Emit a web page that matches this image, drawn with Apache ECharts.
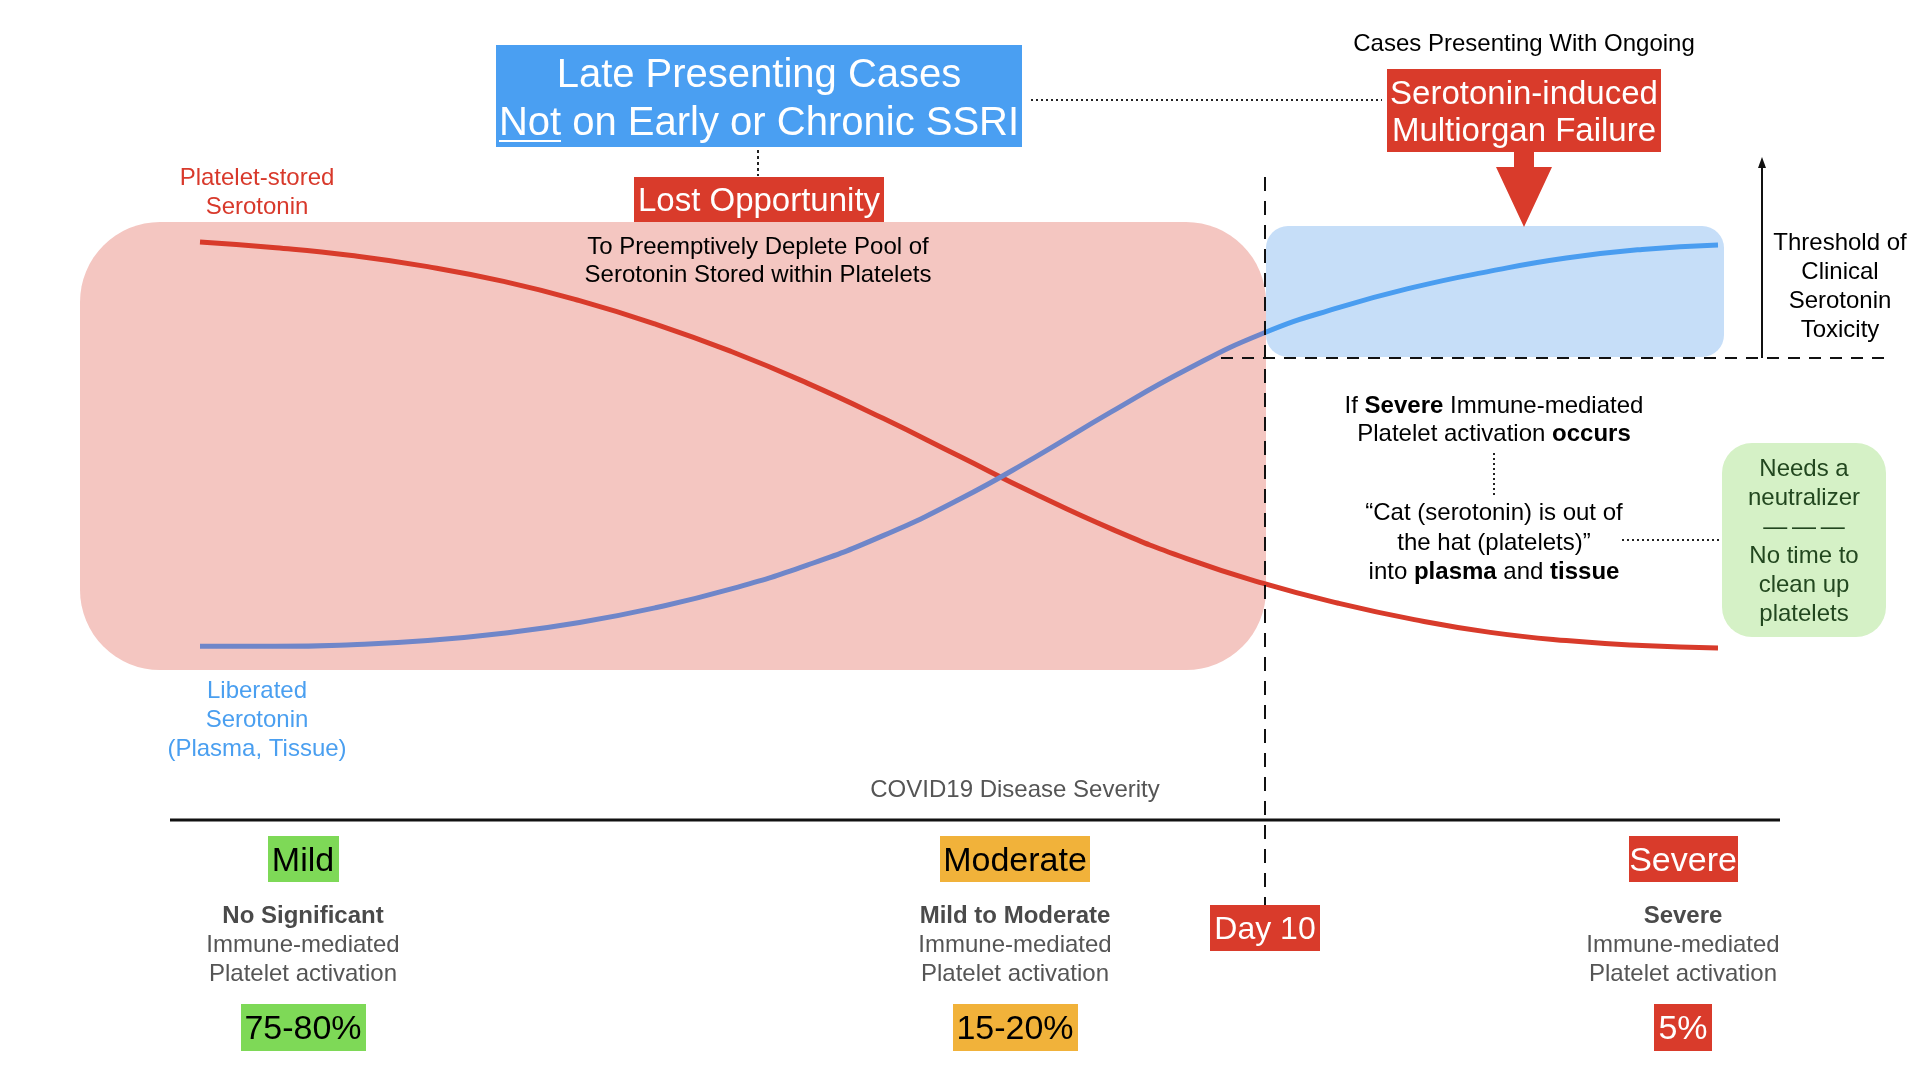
<!DOCTYPE html>
<html>
<head>
<meta charset="utf-8">
<script src="https://cdn.jsdelivr.net/npm/echarts@6/dist/echarts.min.js"></script>
<style>
html,body{margin:0;padding:0;background:#fff;}
#chart{width:1920px;height:1080px;}
</style>
</head>
<body>
<div id="chart"></div>
<script>
// Disease progression (0 = onset, 100 = end of severe phase); Day 10 ≈ 70.2
const progress = [0,5,10,15,20,25,30,35,40,45,50,55,60,65,70,75,80,85,90,95,100];
// Relative serotonin level (0-100)
const plateletStored = [99.5,98.1,96.2,93.5,89.9,85.2,79.5,72.8,65.1,56.5,47.3,38.1,29.6,22.3,16.3,11.4,7.4,4.3,2.3,1.1,0.5];
const liberated      = [0.9,0.9,1.3,2.3,4.1,6.7,10.3,14.9,20.7,27.9,36.7,47.0,58.0,68.4,77.2,83.5,88.5,92.4,95.6,97.7,98.8];

const severityLabels = ['Mild','Moderate','Severe'];
const severityDesc = ['No Significant','Mild to Moderate','Severe'];
const severityShare = ['75-80%','15-20%','5%'];

const FF = "'Liberation Sans', Arial, Helvetica, sans-serif";
const RED = '#d93b2b', BLUE = '#4a9df0';

function rect(x,y,w,h,fill,r,z){return {type:'rect',shape:{x:x,y:y,width:w,height:h,r:r||0},style:{fill:fill},z:z||1};}
function txt(x,y,s,size,fill,weight,extra){
  const st = Object.assign({text:s,fill:fill||'#000',fontSize:size,fontFamily:FF,fontWeight:weight||'normal',textAlign:'center',textVerticalAlign:'middle'}, extra||{});
  return {type:'text',x:x,y:y + (size>=30 ? 3 : 1),style:st,z:20};
}
function line(x1,y1,x2,y2,stroke,w,dash,z){return {type:'line',shape:{x1:x1,y1:y1,x2:x2,y2:y2},style:{stroke:stroke,lineWidth:w,lineDash:dash||null},z:z||15};}
const boldRich = {b:{fontWeight:'bold',fontSize:24,fontFamily:FF,fill:'#000'}};

const g = [];
// Background panels
g.push(rect(80,222,1186,448,'#f4c6c1',80,0));
g.push(rect(1266,226,458,131,'#c6def8',22,0));
g.push(rect(1722,443,164,194,'#d5f1c6',30,0));

// Top-left blue header
g.push(rect(496,45,526,102,'#4a9ff2',0,1));
g.push(txt(759,73,'Late Presenting Cases',40,'#fff'));
g.push(txt(759,121,'Not on Early or Chronic SSRI',40,'#fff'));
g.push(line(499,141,561,141,'#fff',2,null,21));
g.push(line(1031,100,1382,100,'#222',2,[2,3]));
g.push(line(758,150,758,176,'#222',2,[3,3]));
// Lost opportunity
g.push(rect(634,177,250,45,RED,0,1));
g.push(txt(759,199,'Lost Opportunity',33,'#fff'));
g.push(txt(758,246,'To Preemptively Deplete Pool of',24,'#000'));
g.push(txt(758,274,'Serotonin Stored within Platelets',24,'#000'));
// Curve labels
g.push(txt(257,177,'Platelet-stored',24,'#d8392b'));
g.push(txt(257,206,'Serotonin',24,'#d8392b'));
g.push(txt(257,690,'Liberated',24,'#4a9ff0'));
g.push(txt(257,719,'Serotonin',24,'#4a9ff0'));
g.push(txt(257,748,'(Plasma, Tissue)',24,'#4a9ff0'));

// Right top
g.push(txt(1524,43,'Cases Presenting With Ongoing',24,'#000'));
g.push(rect(1387,69,274,83,RED,0,1));
g.push(txt(1524,92,'Serotonin-induced',33,'#fff'));
g.push(txt(1524,129,'Multiorgan Failure',33,'#fff'));
g.push({type:'polygon',shape:{points:[[1514,151],[1534,151],[1534,167],[1552,167],[1524,227],[1496,167],[1514,167]]},style:{fill:RED},z:5});

// Threshold
g.push(line(1221,358,1884,358,'#111',2,[12,9]));
g.push(line(1762,358,1762,166,'#111',2));
g.push({type:'polygon',shape:{points:[[1762,157],[1758,168],[1766,168]]},style:{fill:'#111'},z:15});
['Threshold of','Clinical','Serotonin','Toxicity'].forEach((s,i)=>g.push(txt(1840,242+i*29,s,24,'#000')));

// Day 10
g.push(line(1265,177,1265,905,'#111',2,[14,10]));
g.push(rect(1210,905,110,46,RED,0,1));
g.push(txt(1265,927,'Day 10',32,'#fff'));

// Middle right texts
g.push(txt(1494,405,'If {b|Severe} Immune-mediated',24,'#000','normal',{rich:boldRich}));
g.push(txt(1494,433,'Platelet activation {b|occurs}',24,'#000','normal',{rich:boldRich}));
g.push(line(1494,453,1494,497,'#222',2,[2,3]));
g.push(txt(1494,512,'\u201cCat (serotonin) is out of',24,'#000'));
g.push(txt(1494,542,'the hat (platelets)\u201d',24,'#000'));
g.push(txt(1494,571,'into {b|plasma} and {b|tissue}',24,'#000','normal',{rich:boldRich}));
g.push(line(1622,540,1720,540,'#222',2,[2,3]));
['Needs a','neutralizer','\u2014\u2009\u2014\u2009\u2014','No time to','clean up','platelets'].forEach((s,i)=>g.push(txt(1804,468+i*29,s,24,'#22471f')));

// Bottom axis
g.push(txt(1015,789,'COVID19 Disease Severity',24,'#555'));
g.push(line(170,820,1780,820,'#111',3,null));
const cx = [303,1015,1683];
const labBox = [[268,71],[940,150],[1629,109]];
const pctBox = [[241,125],[953,125],[1654,58]];
const fills = ['#7ed957','#f1b23a',RED];
const tcol = ['#000','#000','#fff'];
severityLabels.forEach((s,i)=>{
  g.push(rect(labBox[i][0],836,labBox[i][1],46,fills[i],0,1));
  g.push(txt(cx[i],859,s,34,tcol[i]));
  g.push(txt(cx[i],915,severityDesc[i],24,'#4a4a4a','bold'));
  g.push(txt(cx[i],944,'Immune-mediated',24,'#555'));
  g.push(txt(cx[i],973,'Platelet activation',24,'#555'));
  g.push(rect(pctBox[i][0],1004,pctBox[i][1],47,fills[i],0,1));
  g.push(txt(cx[i],1027,severityShare[i],34,tcol[i]));
});

// liberated line: muted inside the pink "lost opportunity" window, bright after Day 10
const split = 1266/1920;
const liberatedColor = {type:'linear',x:0,y:0,x2:1920,y2:0,global:true,colorStops:[
  {offset:0,color:'#6f86c9'},{offset:split,color:'#6f86c9'},{offset:split,color:BLUE},{offset:1,color:BLUE}]};

const chart = echarts.init(document.getElementById('chart'));
chart.setOption({
  animation:false,
  grid:{left:200,right:202,top:240,bottom:430},
  xAxis:{type:'value',min:0,max:100,show:false},
  yAxis:{type:'value',min:0,max:100,show:false},
  series:[
    {type:'line',name:'Platelet-stored Serotonin',smooth:0.5,showSymbol:false,z:5,
     lineStyle:{width:5,color:'#d83b2b'},itemStyle:{color:'#d83b2b'},
     data:progress.map((x,i)=>[x,plateletStored[i]])},
    {type:'line',name:'Liberated Serotonin',smooth:0.5,showSymbol:false,z:5,
     lineStyle:{width:5,color:liberatedColor},itemStyle:{color:BLUE},
     data:progress.map((x,i)=>[x,liberated[i]])}
  ],
  graphic:{elements:g}
});
</script>
</body>
</html>
